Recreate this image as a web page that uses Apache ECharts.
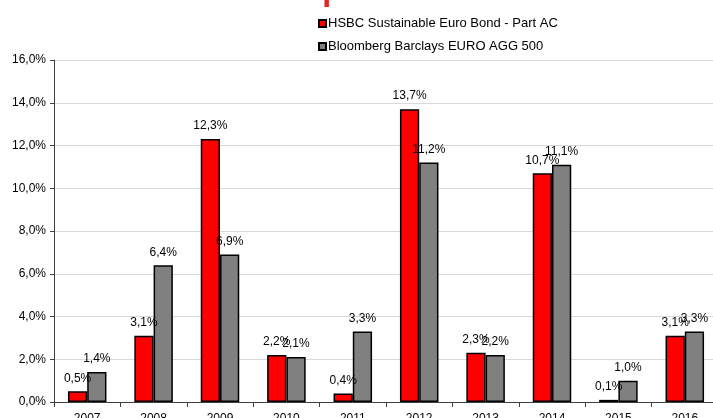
<!DOCTYPE html>
<html>
<head>
<meta charset="utf-8">
<script src="https://cdn.jsdelivr.net/npm/echarts@6/dist/echarts.min.js"></script>
<style>
  html, body { margin: 0; padding: 0; background: #fff; }
  #chart { width: 713px; height: 418px; }
</style>
</head>
<body>
<div id="chart"></div>
<script>
/* performances annuelles fonds vs indice */
var years = ['2007', '2008', '2009', '2010', '2011', '2012', '2013', '2014', '2015', '2016'];
var fundValues = [0.5, 3.1, 12.3, 2.2, 0.4, 13.7, 2.3, 10.7, 0.1, 3.1];
var indexValues = [1.4, 6.4, 6.9, 2.1, 3.3, 11.2, 2.2, 11.1, 1.0, 3.3];
var seriesNames = ['HSBC Sustainable Euro Bond - Part AC', 'Bloomberg Barclays EURO AGG 500'];

function pct(v) {
    return v.toFixed(1).replace('.', ',') + '%';
}

var chart = echarts.init(document.getElementById('chart'));

var labelStyle = {
    show: true,
    position: 'top',
    distance: 7,
    color: '#000',
    fontFamily: 'Liberation Sans',
    fontSize: 12,
    formatter: function (p) { return pct(p.value); }
};

chart.setOption({
    animation: false,
    textStyle: { fontFamily: 'Liberation Sans' },
    title: {
        text: 'Performances passées',
        left: 95,
        top: -30,
        textStyle: { color: '#e8231f', fontSize: 32, fontWeight: 'bold', fontFamily: 'Liberation Sans' }
    },
    legend: {
        orient: 'vertical',
        left: 313,
        top: 12,
        icon: 'rect',
        itemWidth: 7,
        itemHeight: 7,
        itemGap: 10,
        textStyle: { color: '#000', fontSize: 13, fontFamily: 'Liberation Sans', padding: [0, 0, 0, -3] },
        data: seriesNames
    },
    grid: {
        left: 54,
        right: -5,
        top: 60,
        bottom: 16,
        outerBoundsMode: 'none',
        containLabel: false
    },
    xAxis: {
        type: 'category',
        data: years,
        axisLine: { lineStyle: { color: '#404040', width: 1 } },
        axisTick: { show: true, length: 5, lineStyle: { color: '#404040' } },
        axisLabel: { color: '#000', fontSize: 12, margin: 11 }
    },
    yAxis: {
        type: 'value',
        min: 0,
        max: 16,
        interval: 2,
        axisLine: { show: true, lineStyle: { color: '#404040', width: 1 } },
        axisTick: { show: true, length: 4, lineStyle: { color: '#404040' } },
        axisLabel: { color: '#000', fontSize: 12, margin: 8, formatter: function (v) { return pct(v); } },
        splitLine: { lineStyle: { color: '#d9d9d9', width: 1 } }
    },
    series: [
        {
            name: seriesNames[0],
            type: 'bar',
            data: fundValues,
            barGap: '0%',
            barCategoryGap: '42%',
            itemStyle: { color: '#ff0000', borderColor: '#000', borderWidth: 1.5 },
            label: labelStyle
        },
        {
            name: seriesNames[1],
            type: 'bar',
            data: indexValues,
            itemStyle: { color: '#808080', borderColor: '#000', borderWidth: 1.5 },
            label: labelStyle
        }
    ]
});
</script>
</body>
</html>
